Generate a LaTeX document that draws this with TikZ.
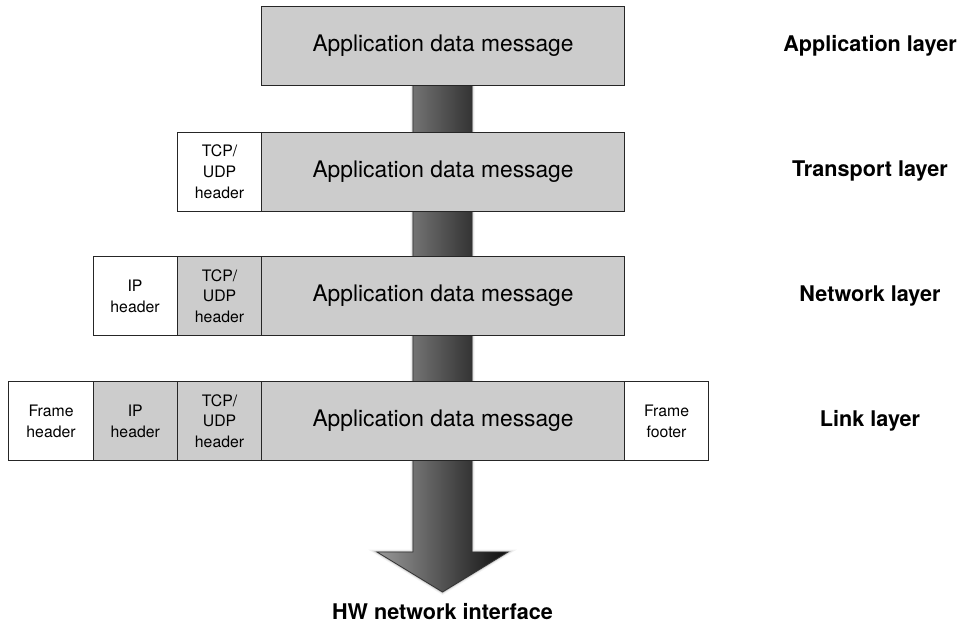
\documentclass[tikz,border=0pt]{standalone}
\usepackage{fontspec}
\setmainfont{TeX Gyre Heros}
\begin{document}
\begin{tikzpicture}[x=1pt,y=-1pt,
  cell/.style={draw=black!85, line width=1.1pt, rectangle, anchor=north west,
    minimum height=79pt, inner sep=0pt, align=center},
  msg/.style={cell, fill=black!20, minimum width=363pt,
    font=\fontsize{22.8}{27}\selectfont},
  hdr/.style={cell, minimum width=84pt, font=\fontsize{15.8}{20.8}\selectfont},
  hdrw/.style={hdr, fill=white},
  hdrg/.style={hdr, fill=black!20},
  layer/.style={font=\fontsize{21.6}{26}\selectfont\bfseries, anchor=center},
  halo/.style={draw=black, line join=miter, fill=none}
]
\useasboundingbox (0,0) rectangle (962,633);

% down arrow carrying the data through the stack, drawn first so the boxes cover it
\def\arrowpath{(413,85) -- (413,552) -- (377,552) -- (442.5,592) -- (508,552) -- (472,552) -- (472,85) -- cycle}
\draw[halo, line width=5pt, opacity=0.05] \arrowpath;
\draw[halo, line width=3pt, opacity=0.08] \arrowpath;
\draw[halo, line width=1.8pt, opacity=0.12] \arrowpath;
\draw[draw=black!80, line width=0.8pt, line join=miter, left color=black!40, right color=black!95] \arrowpath;

% application layer
\node[msg] (appA) at (261,6) {Application data message};

% transport layer
\node[hdrw] (tcpT) at (177,131.5) {TCP/\\UDP\\header};
\node[msg]  (appT) at (261,131.5) {Application data message};

% network layer
\node[hdrw] (ipN)  at (92.5,256) {IP\\header};
\node[hdrg] (tcpN) at (177,256) {TCP/\\UDP\\header};
\node[msg]  (appN) at (261,256) {Application data message};

% link layer
\node[hdrw, minimum width=85pt] (frL) at (8,381) {Frame\\header};
\node[hdrg, minimum width=84.5pt] (ipL) at (92.5,381) {IP\\header};
\node[hdrg] (tcpL) at (177,381) {TCP/\\UDP\\header};
\node[msg]  (appL) at (261,381) {Application data message};
\node[hdrw] (ftL)  at (624,381) {Frame\\footer};

% layer names
\node[layer] (labA) at (870,45.5)  {Application layer};
\node[layer] (labT) at (870,171)   {Transport layer};
\node[layer] (labN) at (870,295.5) {Network layer};
\node[layer] (labL) at (870,420.5) {Link layer};

\node[layer] (hw) at (442.5,612) {HW network interface};
\end{tikzpicture}
\end{document}
